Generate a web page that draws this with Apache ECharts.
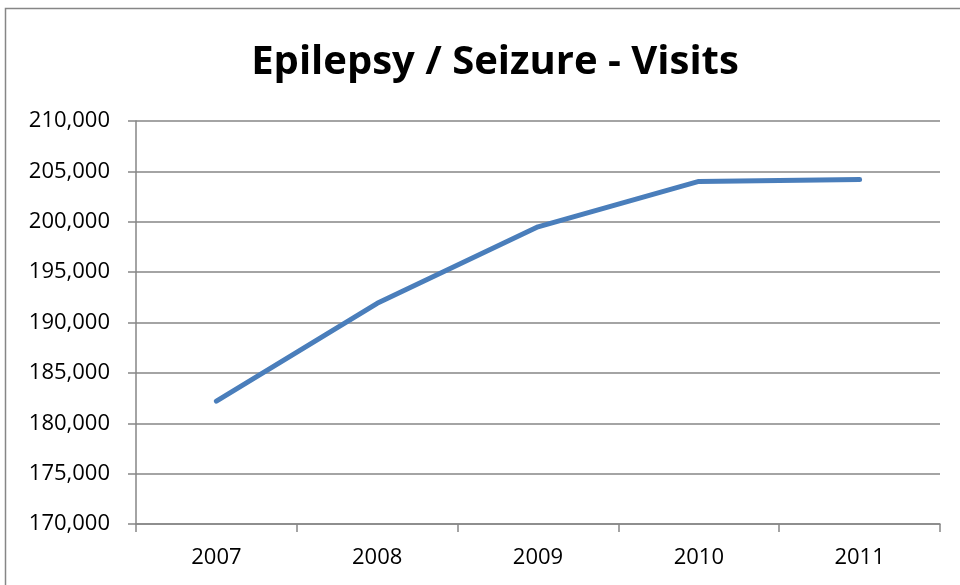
<!DOCTYPE html>
<html>
<head>
<meta charset="utf-8">
<script src="https://cdn.jsdelivr.net/npm/echarts@6/dist/echarts.min.js"></script>
<style>
html,body{margin:0;padding:0;background:#fff;}
#chart{width:960px;height:585px;}
</style>
</head>
<body>
<div id="chart"></div>
<script>
const categories = ['2007', '2008', '2009', '2010', '2011'];
const visits = [182200, 191900, 199500, 204000, 204200];
const yTicks = { min: 170000, max: 210000, interval: 5000 };
const titleText = 'Epilepsy / Seizure - Visits';

const chart = echarts.init(document.getElementById('chart'));
const fontFam = '"Open Sans", "Noto Sans", sans-serif';
chart.setOption({
  animation: false,
  backgroundColor: '#fff',
  title: {
    text: titleText,
    left: 490,
    textAlign: 'center',
    top: 38,
    textStyle: { fontFamily: fontFam, fontWeight: 'bold', fontSize: 40, color: '#000' }
  },
  graphic: [{
    type: 'rect',
    shape: { x: 5.5, y: 8.5, width: 970, height: 600 },
    style: { fill: 'none', stroke: '#868686', lineWidth: 1.5 },
    silent: true
  }],
  grid: { left: 136, right: 20, top: 121, bottom: 61, containLabel: false },
  xAxis: {
    type: 'category',
    data: categories,
    boundaryGap: true,
    axisLine: { show: true, lineStyle: { color: '#868686', width: 1.5 } },
    axisTick: { show: true, alignWithLabel: false, length: 8, lineStyle: { color: '#868686', width: 1.5 } },
    axisLabel: { color: '#000', fontFamily: fontFam, fontSize: 22, margin: 23 },
    splitLine: { show: false }
  },
  yAxis: {
    type: 'value',
    min: yTicks.min,
    max: yTicks.max,
    interval: yTicks.interval,
    axisLine: { show: true, lineStyle: { color: '#868686', width: 1.5 } },
    axisTick: { show: true, length: 8, lineStyle: { color: '#868686', width: 1.5 } },
    axisLabel: {
      color: '#000', fontFamily: fontFam, fontSize: 22, margin: 26,
      formatter: v => v.toLocaleString('en-US')
    },
    splitLine: { show: true, lineStyle: { color: '#868686', width: 1.5 } }
  },
  series: [{
    type: 'line',
    data: visits,
    symbol: 'none',
    lineStyle: { color: '#4a7ebb', width: 5, cap: 'round', join: 'round' },
    itemStyle: { color: '#4a7ebb' }
  }]
});
</script>
</body>
</html>
